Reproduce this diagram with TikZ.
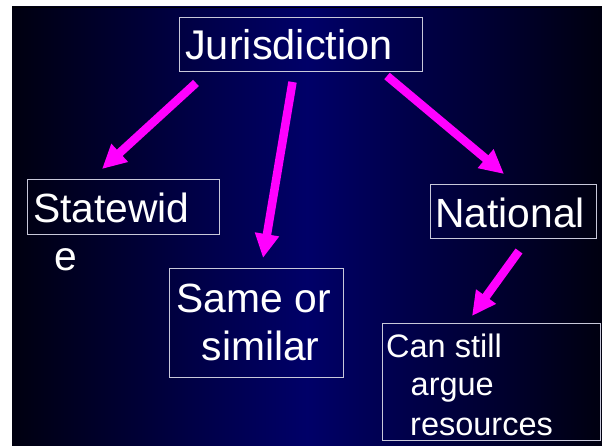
\documentclass[tikz,border=0pt]{standalone}
\usepackage{fontspec}
\setmainfont{Liberation Sans}
\usetikzlibrary{arrows.meta}
\definecolor{bgedge}{RGB}{0,0,16}
\definecolor{bgmid}{RGB}{0,0,104}
\definecolor{boxline}{RGB}{200,200,218}
\definecolor{arrowpink}{RGB}{255,0,255}
\tikzset{
  box/.style={draw=boxline, line width=1pt, inner sep=0pt, anchor=north west},
  lbl/.style={text=white, inner sep=0pt, anchor=base west},
  big/.style={font=\fontsize{40.8}{48}\selectfont},
  small/.style={font=\fontsize{32.5}{38}\selectfont},
  pointer/.style={draw=arrowpink, line width=8.5pt, -{Triangle[length=24pt,width=23pt]}},
}
\begin{document}
\begin{tikzpicture}[x=1pt,y=-1pt]
\useasboundingbox (0,0) rectangle (602,446);
% page and slide background
\fill[white] (0,0) rectangle (602,446);
\shade[left color=bgedge, right color=bgedge, middle color=bgmid] (12,7) rectangle (602,446);
\fill[black] (12,7) rectangle (602,8);

% boxes
\node[box, minimum width=243pt, minimum height=54pt] (jur) at (179,17) {};
\node[box, minimum width=192pt, minimum height=55pt] (state) at (27,179) {};
\node[box, minimum width=174pt, minimum height=109pt] (same) at (169,268) {};
\node[box, minimum width=166pt, minimum height=54pt] (nat) at (430,184) {};
\node[box, minimum width=218pt, minimum height=117pt] (can) at (382,323) {};

% texts
\node[lbl, font=\fontsize{41.5}{49}\selectfont] (jurtext) at (185,60) {Jurisdiction};
\node[lbl, big] (statetext1) at (33,223) {Statewid};
\node[lbl, big] (statetext2) at (54.5,270) {e};
\node[lbl, big] (sametext1) at (176.5,312) {Same or};
\node[lbl, big] (sametext2) at (201.5,360) {similar};
\node[lbl, big] (nattext) at (435,228) {National};
\node[lbl, small] (cantext1) at (386,357) {Can still};
\node[lbl, small] (cantext2) at (410.5,395) {argue};
\node[lbl, small] (cantext3) at (410,435) {resources};

% arrow ends
\coordinate (a1s) at (196,83);
\coordinate (a1e) at (102,169);
\coordinate (a2s) at (292.5,82);
\coordinate (a2e) at (263,258);
\coordinate (a3s) at (387,76);
\coordinate (a3e) at (504,174);
\coordinate (a4s) at (519,251);
\coordinate (a4e) at (472,316);

% arrows
\draw[pointer] (a1s) -- (a1e);
\draw[pointer] (a2s) -- (a2e);
\draw[pointer] (a3s) -- (a3e);
\draw[pointer] (a4s) -- (a4e);
\end{tikzpicture}
\end{document}
